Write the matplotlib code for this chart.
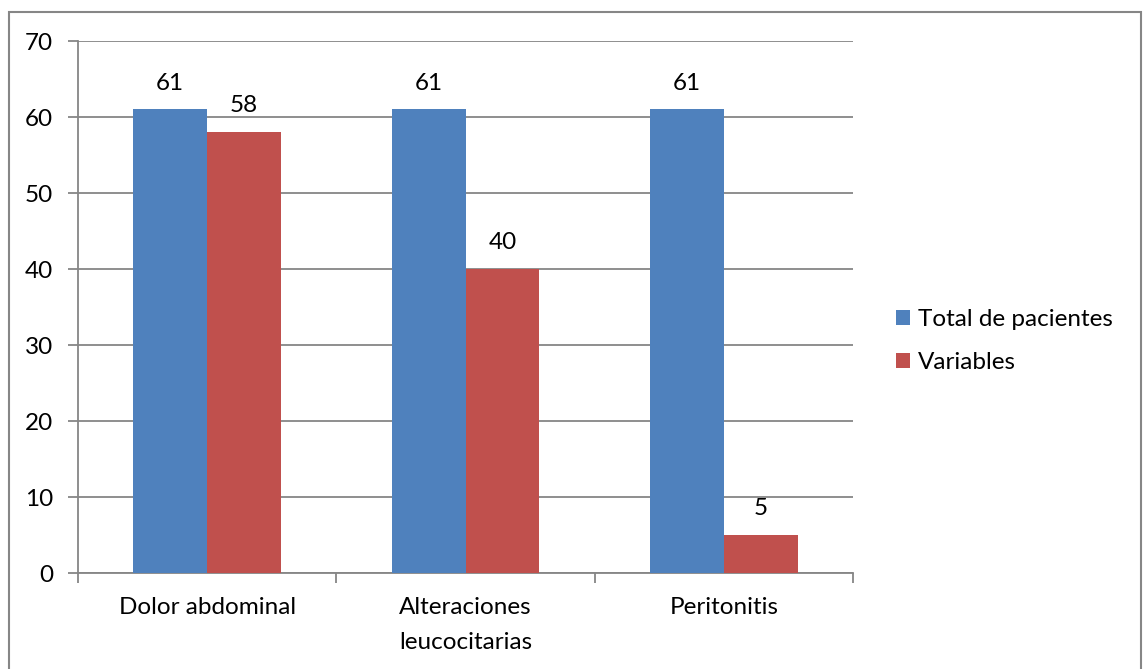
import numpy as np
import matplotlib.pyplot as plt
from matplotlib.patches import Rectangle

plt.rcParams['font.family'] = ['Lato', 'DejaVu Sans']

categorias = ["Dolor abdominal", "Alteraciones\nleucocitarias", "Peritonitis"]
total_pacientes = [61, 61, 61]
variables = [58, 40, 5]
series = ["Total de pacientes", "Variables"]
colores = ["#4F81BD", "#C0504D"]
gris = "#868686"
fs = 17.5

W, H = 1143, 669
fig = plt.figure(figsize=(W / 100, H / 100), dpi=100)
ax = fig.add_axes([78 / W, 1 - 573 / H, (853 - 78) / W, (573 - 41) / H])

# marco exterior del grafico
fig.patches.append(Rectangle((9 / W, -0.05), (1141 - 9) / W, 1.05 - 12 / H,
                             transform=fig.transFigure, fill=False,
                             edgecolor=gris, linewidth=1.5))

x = np.arange(len(categorias))
ancho = 0.286
b1 = ax.bar(x - ancho / 2, total_pacientes, ancho, color=colores[0], label=series[0], zorder=3)
b2 = ax.bar(x + ancho / 2, variables, ancho, color=colores[1], label=series[1], zorder=3)

for barras in (b1, b2):
    for b in barras:
        ax.annotate(str(int(b.get_height())), (b.get_x() + b.get_width() / 2, b.get_height()),
                    xytext=(0, 19), textcoords="offset points", ha="center", va="center",
                    fontsize=fs, color="black")

ax.set_xlim(-0.5, 2.5)
ax.set_ylim(0, 70)
ax.set_yticks(range(0, 71, 10))
ax.yaxis.grid(True, color=gris, linewidth=1.3, zorder=0)

ax.set_xticks(x)
ax.set_xticklabels(categorias, fontsize=fs, linespacing=1.85)
ax.set_xticks([-0.5, 0.5, 1.5, 2.5], minor=True)
ax.tick_params(axis="x", which="major", length=0, pad=17)
ax.tick_params(axis="x", which="minor", length=7, width=1.3, color=gris, direction="out")
ax.tick_params(axis="y", length=7, width=1.3, color=gris, labelsize=fs, pad=11)

for s in ["top", "right"]:
    ax.spines[s].set_visible(False)
for s in ["left", "bottom"]:
    ax.spines[s].set_color(gris)
    ax.spines[s].set_linewidth(1.3)

ax.legend(loc="center left", bbox_to_anchor=(874 / W, 1 - 341 / H), bbox_transform=fig.transFigure,
          frameon=False, fontsize=fs, handlelength=0.6, handleheight=0.6, handletextpad=0.3,
          labelspacing=0.9)

fig.savefig("out.png", dpi=100)
